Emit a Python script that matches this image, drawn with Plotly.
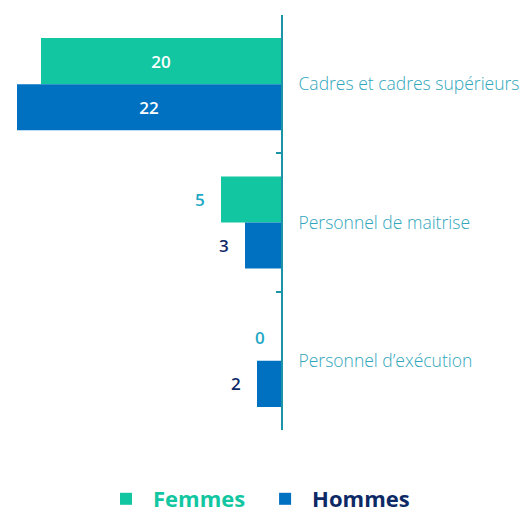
import plotly.graph_objects as go

categories = ["Cadres et cadres supérieurs", "Personnel de maitrise", "Personnel d’exécution"]
femmes = [20, 5, 0]
hommes = [22, 3, 2]
femmes_inside = [True, False, False]
hommes_inside = [True, False, False]

teal = "#12C6A1"
blue = "#0070C0"
navy = "#0E2A66"
label_teal = "#1EA8C4"
axis_col = "#1B94A8"
cat_col = "#2FA6BB"
fam = "Open Sans"

fig = go.Figure()
series = [
    ("Femmes", femmes, femmes_inside, teal, teal, label_teal, -1 / 6, "legend", 0.1747),
    ("Hommes", hommes, hommes_inside, blue, navy, navy, 1 / 6, "legend2", 0.480),
]
for name, vals, inside, col, legcol, outcol, off, leg, legx in series:
    fig.add_trace(go.Bar(
        y=categories, x=vals, orientation="h",
        name=name,
        legend=leg,
        marker=dict(color=col, line=dict(width=0)),
        text=[str(v) if ins else "" for v, ins in zip(vals, inside)],
        textposition="inside", insidetextanchor="middle",
        insidetextfont=dict(color="white", size=17, family=fam, weight=600),
        cliponaxis=False,
    ))
    for i, (v, ins) in enumerate(zip(vals, inside)):
        if not ins:
            fig.add_annotation(
                x=v, y=i + off, xref="x", yref="y", text=str(v),
                showarrow=False, xanchor="right", yanchor="middle", xshift=-14,
                font=dict(color=outcol, size=17, family=fam, weight=600),
            )
    fig.update_layout({leg: dict(
        orientation="h", xref="container", yref="container",
        x=legx, xanchor="left", y=-0.012, yanchor="bottom",
        font=dict(family=fam, size=22, color=legcol, weight=700),
        itemsizing="constant", itemwidth=44,
        bgcolor="rgba(0,0,0,0)",
    )})

fig.update_layout(
    width=521, height=512,
    margin=dict(l=9, r=248, t=7, b=90, autoexpand=False),
    paper_bgcolor="white", plot_bgcolor="white",
    barmode="group", bargap=1 / 3, bargroupgap=0,
    showlegend=True,
    font=dict(family=fam),
)
fig.update_xaxes(range=[22, 0], visible=False, showgrid=False, zeroline=False, automargin=False)
fig.update_yaxes(
    autorange="reversed", side="right", showline=True, linecolor=axis_col, linewidth=2,
    ticks="inside", tickson="boundaries", ticklen=5, tickcolor=axis_col, tickwidth=2,
    tickfont=dict(color=cat_col, size=17.5, family=fam, weight=300),
    ticklabelstandoff=12, showgrid=False, automargin=False,
)

fig.write_html("out.html")
